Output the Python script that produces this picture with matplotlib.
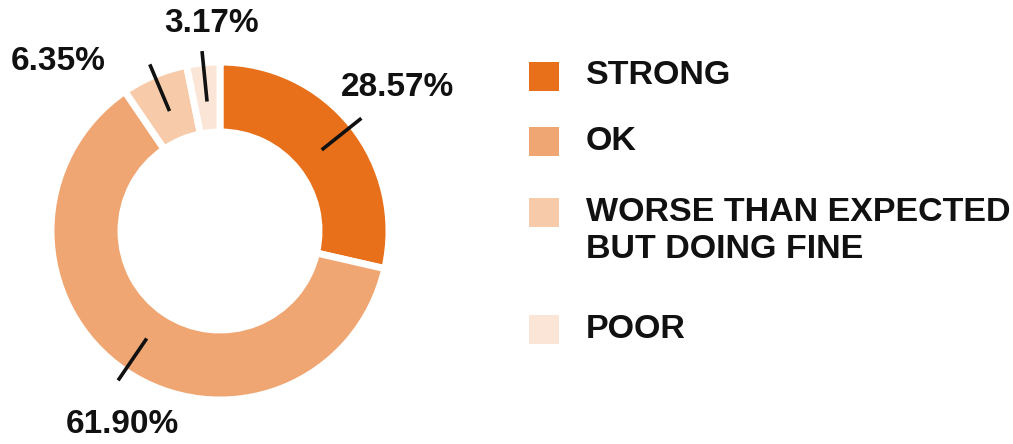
import numpy as np
import matplotlib
matplotlib.use("Agg")
import matplotlib.pyplot as plt
from matplotlib.patches import Rectangle

categories = ["STRONG", "OK", "WORSE THAN EXPECTED\nBUT DOING FINE", "POOR"]
values = [28.57, 61.90, 6.35, 3.17]
labels = ["28.57%", "61.90%", "6.35%", "3.17%"]
colors = ["#E8701A", "#F0A673", "#F7CBA9", "#FBE5D6"]

W, H = 1013, 444
fig = plt.figure(figsize=(W / 100, H / 100), dpi=100)
fig.patch.set_facecolor("white")
ax = fig.add_axes([0, 0, 1, 1])

def Y(py):
    return H - py

cx, cy, R, ring = 220, Y(231), 169, 70
wedges, _ = ax.pie(values, radius=R, center=(cx, cy), startangle=90,
                   counterclock=False, colors=colors,
                   wedgeprops=dict(width=ring, edgecolor="white", linewidth=5))
ax.set_xlim(0, W)
ax.set_ylim(0, H)
ax.set_aspect("auto")
ax.axis("off")

font = dict(family=["Liberation Sans", "DejaVu Sans"], fontweight="bold", color="#111111")

# leader lines and labels
label_pos = [(397, 87), (122, 424), (58, 61), (212, 24)]
for w, lab, (lx, ly) in zip(wedges, labels, label_pos):
    mid = np.deg2rad((w.theta1 + w.theta2) / 2)
    r0, r1 = 0.77 * R, 1.07 * R
    ax.plot([cx + r0 * np.cos(mid), cx + r1 * np.cos(mid)],
            [cy + r0 * np.sin(mid), cy + r1 * np.sin(mid)],
            color="#111111", lw=2.6, solid_capstyle="butt")
    ax.text(lx, Y(ly), lab, ha="center", va="center", fontsize=24, **font)

# legend
sq_tops = [62, 127, 198, 315]
text_y = [76, 142, 231, 329]
for cat, col, top, ty in zip(categories, colors, sq_tops, text_y):
    ax.add_patch(Rectangle((529, Y(top + 29)), 30, 29, facecolor=col, edgecolor="none"))
    ax.text(586, Y(ty), cat, ha="left", va="center", fontsize=24.5,
            linespacing=1.27, **font)

fig.savefig("out.png", dpi=100, facecolor="white")
